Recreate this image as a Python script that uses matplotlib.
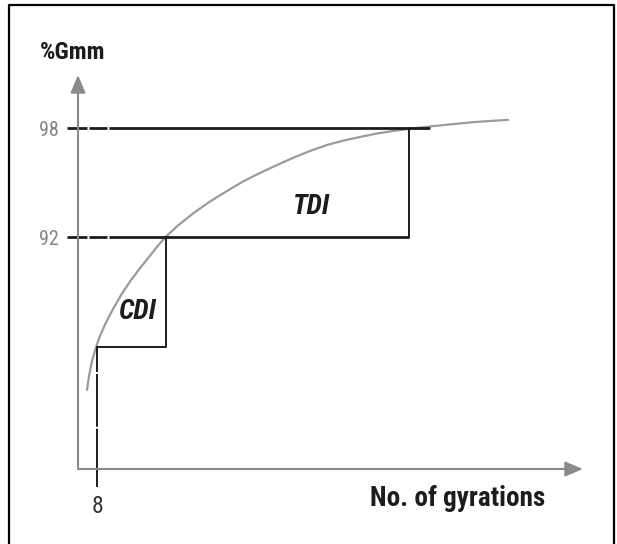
import matplotlib
matplotlib.use('Agg')
import matplotlib.pyplot as plt
from matplotlib.lines import Line2D

plt.rcParams['font.family'] = ['Roboto Condensed', 'Liberation Sans', 'DejaVu Sans']
plt.rcParams['lines.scale_dashes'] = False

# densification curve (gyrations, %Gmm)
gyrations = [3.79, 4.63, 5.89, 7.58, 9.26, 11.79, 14.74, 18.11, 21.89, 25.68, 29.05,
             32.84, 36.63, 42.11, 48.42, 55.58, 62.74, 69.47, 76.63, 83.79, 90.53,
             97.68, 104.84, 112.0, 118.74, 125.89, 132.63, 138.95, 148.21, 156.63,
             165.05, 173.47, 181.05]
gmm = [83.61, 84.38, 85.20, 85.97, 86.58, 87.32, 88.06, 88.83, 89.58, 90.24, 90.79,
       91.42, 92.00, 92.66, 93.32, 93.98, 94.56, 95.08, 95.55, 95.99, 96.38,
       96.76, 97.09, 97.34, 97.53, 97.72, 97.86, 97.97, 98.11, 98.22,
       98.33, 98.41, 98.47]

n_ini = 8          # gyration level marked on the x axis
gmm_ini = 86.0     # %Gmm at n_ini
gmm_levels = [92, 98]
n_92 = 37.0        # gyrations where 92 % is reached
n_98 = 139.4       # gyrations where 98 % is reached

W, H = 617, 544
fig = plt.figure(figsize=(W / 100, H / 100), dpi=100)
ax = fig.add_axes([78 / W, 1 - 469 / H, 505 / W, 394 / H])
ax.set_xlim(0, 212.6)
ax.set_ylim(79.26, 100.94)
for s in ax.spines.values():
    s.set_visible(False)

dark = '#1c1c1c'
grey = '#8a8a8a'

# axes as arrows
arr = dict(arrowstyle='-|>,head_length=0.9,head_width=0.38', color=grey,
           lw=1.5, mutation_scale=12, shrinkA=0, shrinkB=0)
ax.annotate('', xy=(0, 1), xytext=(0, 0), xycoords='axes fraction', arrowprops=arr)
ax.annotate('', xy=(1, 0), xytext=(0, 0), xycoords='axes fraction', arrowprops=arr)

# curve
ax.plot(gyrations, gmm, color='#9b9b9b', lw=1.6, solid_capstyle='round',
        solid_joinstyle='round', clip_on=False)

# level lines with the little breaks near the axis
x_left = -4.63
brk = [14.4, 1.4, 13.0, 1.4, 1000]
ax.plot([x_left, 148.2], [gmm_levels[1]] * 2, color=dark, lw=2.0, dashes=brk, clip_on=False)
ax.plot([x_left, n_98], [gmm_levels[0]] * 2, color=dark, lw=2.0, dashes=brk, clip_on=False)
ax.plot([n_98, n_98], gmm_levels, color=dark, lw=1.4)

# CDI step
ax.plot([n_ini, n_92, n_92], [gmm_ini, gmm_ini, gmm_levels[0]], color=dark, lw=1.4)
ax.plot([n_ini, n_ini], [gmm_ini, 78.27], color=dark, lw=1.4,
        dashes=[18, 1.4, 38, 1.4, 1000], clip_on=False)

ax.text(98.1, 93.68, 'TDI', fontsize=20, fontweight='bold', style='italic',
        color=dark, ha='center', va='center')
ax.text(24.8, 87.9, 'CDI', fontsize=20, fontweight='bold', style='italic',
        color=dark, ha='center', va='center')

# ticks
ax.set_yticks(gmm_levels)
ax.set_yticklabels([str(v) for v in gmm_levels], fontsize=14.5, color='#858585')
ax.set_xticks([n_ini])
ax.set_xticklabels([str(n_ini)], fontsize=17, color='#333333')
ax.tick_params(axis='y', length=0, pad=13.5)
ax.tick_params(axis='x', length=0, pad=19)

ax.text(-0.01, 1.058, '%Gmm', transform=ax.transAxes, fontsize=17.5,
        fontweight='bold', color=dark, ha='center', va='center')
ax.text(0.752, -0.076, 'No. of gyrations', transform=ax.transAxes, fontsize=19.5,
        fontweight='bold', color=dark, ha='center', va='center')

# outer frame
fx = [9 / W, 9 / W, 614 / W, 614 / W]
fy = [0, 1 - 5 / H, 1 - 5 / H, 0]
fig.add_artist(Line2D(fx, fy, color='black', lw=1.6))

fig.savefig('out.png', dpi=100)
